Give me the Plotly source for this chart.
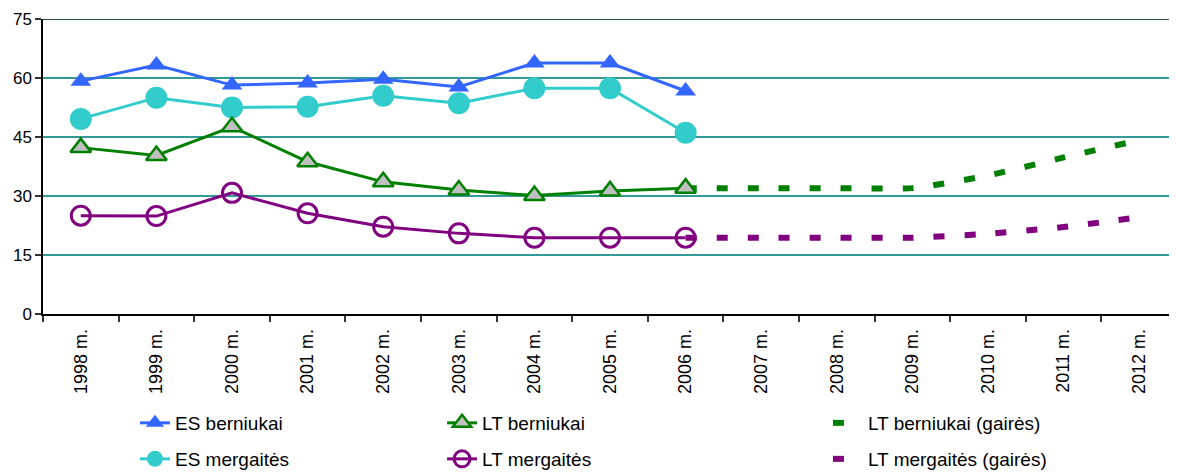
import plotly.graph_objects as go

years = ["1998 m.", "1999 m.", "2000 m.", "2001 m.", "2002 m.", "2003 m.", "2004 m.",
         "2005 m.", "2006 m.", "2007 m.", "2008 m.", "2009 m.", "2010 m.", "2011 m.", "2012 m."]

actual_years = years[:9]
es_berniukai = [59.2, 63.3, 58.2, 58.7, 59.7, 57.7, 63.8, 63.8, 56.7]
es_mergaites = [49.6, 55.0, 52.5, 52.7, 55.5, 53.6, 57.4, 57.4, 46.1]
lt_berniukai = [42.3, 40.3, 47.6, 38.7, 33.6, 31.5, 30.1, 31.3, 32.0]
lt_mergaites = [25.0, 24.9, 30.8, 25.6, 22.2, 20.5, 19.4, 19.4, 19.4]

guide_years = years[8:]
lt_berniukai_gaires = [32.0, 32.0, 32.0, 32.0, 35.2, 39.8, 44.2]
lt_mergaites_gaires = [19.4, 19.4, 19.4, 19.4, 20.4, 22.1, 24.6]

y_ticks = [0, 15, 30, 45, 60, 75]

BLUE = "#3366FF"
CYAN = "#33CCCC"
GREEN = "#008000"
PURPLE = "#800080"
FONT = "Liberation Sans, Arial, sans-serif"

fig = go.Figure()

fig.add_trace(go.Scatter(
    x=actual_years, y=es_berniukai, name="ES berniukai", mode="lines+markers",
    line=dict(color=BLUE, width=3),
    marker=dict(symbol="triangle-up", size=18, color=BLUE, line=dict(width=0)),
    legend="legend"))
fig.add_trace(go.Scatter(
    x=actual_years, y=es_mergaites, name="ES mergaitės", mode="lines+markers",
    line=dict(color=CYAN, width=3),
    marker=dict(symbol="circle", size=22, color=CYAN, line=dict(width=0)),
    legend="legend2"))
fig.add_trace(go.Scatter(
    x=guide_years, y=lt_berniukai_gaires, name="LT berniukai (gairės)", mode="lines",
    line=dict(color=GREEN, width=6, dash="11px,20px", shape="spline", smoothing=0.5),
    legend="legend5"))
fig.add_trace(go.Scatter(
    x=guide_years, y=lt_mergaites_gaires, name="LT mergaitės (gairės)", mode="lines",
    line=dict(color=PURPLE, width=6, dash="11px,20px", shape="spline", smoothing=0.5),
    legend="legend6"))
fig.add_trace(go.Scatter(
    x=actual_years, y=lt_berniukai, name="LT berniukai", mode="lines+markers",
    line=dict(color=GREEN, width=3),
    marker=dict(symbol="triangle-up", size=18, color="#C0C0C0", line=dict(width=2.5, color=GREEN)),
    legend="legend3"))
fig.add_trace(go.Scatter(
    x=actual_years, y=lt_mergaites, name="LT mergaitės", mode="lines+markers",
    line=dict(color=PURPLE, width=3),
    marker=dict(symbol="circle-open", size=19, color=PURPLE, line=dict(width=3, color=PURPLE)),
    legend="legend4"))

# legend item positions (container coords)
col_x = [0.0811, 0.3519, 0.6922]
row_y = [0.1056, 0.028]


def leg(x, y):
    return dict(orientation="v", yanchor="middle", xanchor="left", x=x, y=y,
                yref="container",
                font=dict(family=FONT, size=19, color="#000000"),
                bgcolor="rgba(0,0,0,0)", borderwidth=0, itemwidth=30)


# the page body adds an 8px offset; figure size/margins compensate for it
fig.update_layout(
    width=1169, height=464,
    margin=dict(l=35, r=0, t=11, b=158, pad=0),
    paper_bgcolor="white", plot_bgcolor="white",
    font=dict(family=FONT, size=16, color="#000000"),
    showlegend=True,
    legend=leg(col_x[0], row_y[0]),
    legend2=leg(col_x[0], row_y[1]),
    legend3=leg(col_x[1], row_y[0]),
    legend4=leg(col_x[1], row_y[1]),
    legend5=leg(col_x[2], row_y[0]),
    legend6=leg(col_x[2], row_y[1]),
    xaxis=dict(
        type="category", categoryorder="array", categoryarray=years,
        range=[-0.5, len(years) - 0.5], automargin=False,
        showgrid=False, showline=True, linecolor="#000000", linewidth=1.5,
        ticks="outside", tickson="boundaries", ticklen=6, tickcolor="#333333", tickwidth=1.5,
        tickangle=-90, tickfont=dict(family=FONT, size=18), zeroline=False,
        ticklabelstandoff=6,
    ),
    yaxis=dict(
        range=[0, 75], tickvals=y_ticks, ticktext=[str(v) for v in y_ticks], automargin=False,
        showgrid=True, gridcolor="#339999", gridwidth=1.5,
        showline=True, linecolor="#000000", linewidth=1.5,
        ticks="outside", ticklen=6, tickcolor="#333333", tickwidth=1.5,
        tickfont=dict(family=FONT, size=17), zeroline=False,
    ),
    shapes=[dict(type="line", xref="paper", yref="y", x0=0, x1=1, y0=75, y1=75,
                 line=dict(color="#2F4F4F", width=2))],
)

fig.write_html("out.html")
